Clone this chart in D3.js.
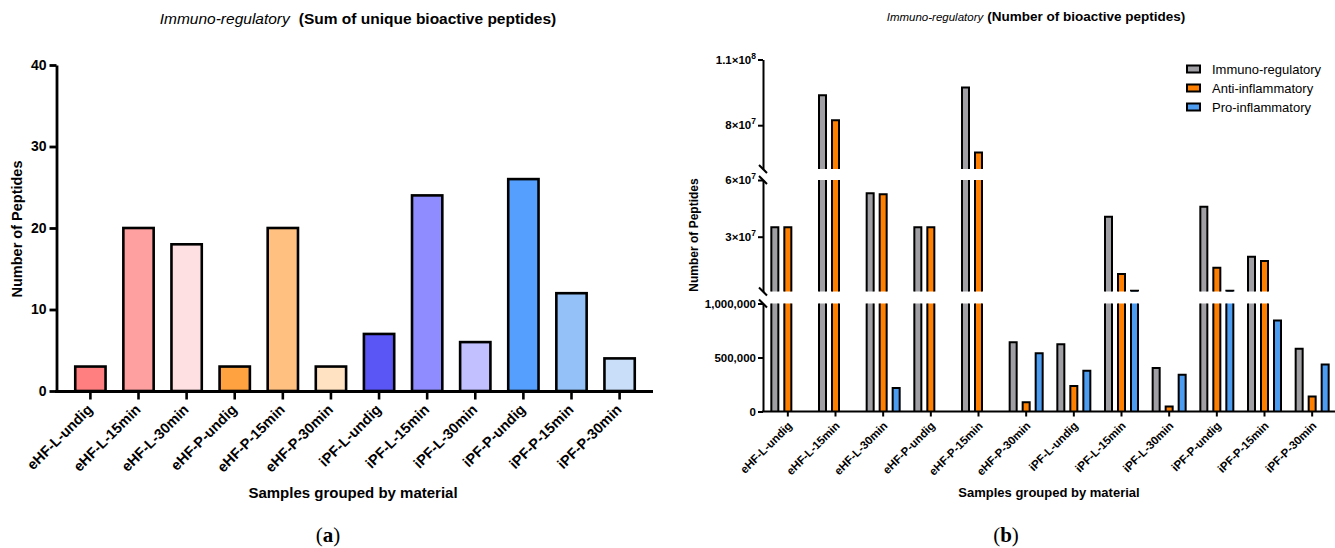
<!DOCTYPE html>
<html>
<head>
<meta charset="utf-8">
<script src="https://cdn.jsdelivr.net/npm/d3@7"></script>
<style>
  html, body { margin: 0; padding: 0; background: #fff; }
  svg { display: block; font-family: "Liberation Sans", Arial, sans-serif; }
</style>
</head>
<body>
<svg id="fig" width="1335" height="548"></svg>
<script>
// Sample groups shared by both panels
const categories = ["eHF-L-undig", "eHF-L-15min", "eHF-L-30min", "eHF-P-undig", "eHF-P-15min", "eHF-P-30min",
                    "iPF-L-undig", "iPF-L-15min", "iPF-L-30min", "iPF-P-undig", "iPF-P-15min", "iPF-P-30min"];

// Panel (a): sum of unique immuno-regulatory peptides
const uniqueCounts = [3, 20, 18, 3, 20, 3, 7, 24, 6, 26, 12, 4];
const sampleColors = ["#ff7f80", "#ffa0a0", "#ffe0e2", "#ffa23f", "#ffc080", "#ffe2c2",
                      "#5a55f5", "#8f8cff", "#c2c0ff", "#55a0ff", "#94c2f8", "#c9def8"];
const leftTicks = [0, 10, 20, 30, 40];

// Panel (b): number of bioactive peptides per activity class
const seriesNames = ["Immuno-regulatory", "Anti-inflammatory", "Pro-inflammatory"];
const seriesColors = ["#a0a0a4", "#ff8000", "#4c9cf2"];
const immunoValues = [3.5e7, 9.37e7, 5.3e7, 3.5e7, 9.72e7, 641000, 622000, 4.06e7, 402000, 4.59e7, 1.94e7, 580000];
const antiValues   = [3.5e7, 8.23e7, 5.24e7, 3.5e7, 6.75e7, 85000, 236000, 1.03e7, 46000, 1.36e7, 1.71e7, 139000];
const proValues    = [0, 0, 217000, 0, 0, 539000, 378000, 1.42e6, 340000, 1.42e6, 843000, 435000];

// Broken y axis of panel (b): value ranges and their tick labels
const segBottomDomain = [0, 1e6];
const segMiddleDomain = [1e6, 6e7];
const segTopDomain = [6e7, 1.1e8];
const segBottomTicks = [0, 500000, 1000000];
const segMiddleTicks = [3e7, 6e7];
const segTopTicks = [8e7, 1.1e8];
const tickLabels = new Map([
  [0, ["0"]], [500000, ["500,000"]], [1000000, ["1,000,000"]],
  [3e7, ["3×10", "7"]], [6e7, ["6×10", "7"]], [8e7, ["8×10", "7"]], [1.1e8, ["1.1×10", "8"]]
]);

const svg = d3.select("#fig");

/* ---------------- Panel (a) ---------------- */
const a = svg.append("g");
const xA = d3.scaleBand().domain(categories).range([56, 654]).paddingInner(0.37).paddingOuter(0.4);
const yA = d3.scaleLinear().domain([0, 40]).range([391, 65]);

a.selectAll("rect.bar").data(categories).join("rect")
  .attr("class", "bar")
  .attr("x", d => xA(d))
  .attr("width", xA.bandwidth())
  .attr("y", (d, i) => yA(uniqueCounts[i]))
  .attr("height", (d, i) => yA(0) - yA(uniqueCounts[i]))
  .attr("fill", (d, i) => sampleColors[i])
  .attr("stroke", "#000").attr("stroke-width", 2.6);

const yAxisA = a.append("g").attr("transform", "translate(56.5,0)")
  .call(d3.axisLeft(yA).tickValues(leftTicks).tickSize(7).tickSizeOuter(0).tickPadding(3));
yAxisA.select(".domain").attr("stroke-width", 2.8);
yAxisA.selectAll(".tick line").attr("stroke-width", 2.8);
yAxisA.selectAll(".tick text").attr("font-size", 14).attr("font-weight", "bold").attr("fill", "#000");

const xAxisA = a.append("g").attr("transform", "translate(0,391.5)")
  .call(d3.axisBottom(xA).tickSize(8).tickSizeOuter(0));
xAxisA.select(".domain").attr("stroke-width", 2.8).attr("d", "M55,0H653");
xAxisA.selectAll(".tick line").attr("stroke-width", 2.6);
xAxisA.selectAll(".tick text")
  .attr("font-size", 14.5).attr("font-weight", "bold").attr("fill", "#000")
  .attr("text-anchor", "end").attr("dy", 0).attr("y", 0)
  .attr("transform", "translate(3,19) rotate(-45)");

a.append("text").attr("x", 358).attr("y", 24).attr("text-anchor", "middle").attr("font-size", 15.5)
  .call(t => {
    t.append("tspan").attr("font-style", "italic").text("Immuno-regulatory");
    t.append("tspan").attr("font-weight", "bold").attr("dx", 9).text("(Sum of unique bioactive peptides)");
  });
a.append("text").attr("transform", "translate(22,229) rotate(-90)").attr("text-anchor", "middle")
  .attr("font-size", 14.5).attr("font-weight", "bold").text("Number of Peptides");
a.append("text").attr("x", 353).attr("y", 498).attr("text-anchor", "middle")
  .attr("font-size", 15).attr("font-weight", "bold").text("Samples grouped by material");
a.append("text").attr("x", 328).attr("y", 542).attr("text-anchor", "middle")
  .attr("font-family", "Liberation Serif, serif").attr("font-size", 21)
  .call(t => {
    t.append("tspan").text("(");
    t.append("tspan").attr("font-weight", "bold").text("a");
    t.append("tspan").text(")");
  });

/* ---------------- Panel (b) ---------------- */
const b = svg.append("g");
const axisX = 763;
const xB = d3.scaleBand().domain(categories).range([764, 1336]);
const xSeries = d3.scalePoint().domain(seriesNames).range([-13, 13]);
const barW = 7;

// Each piece of the broken axis is its own linear scale
const segments = [
  { scale: d3.scaleLinear().domain(segBottomDomain).range([411.5, 303.5]), ticks: segBottomTicks, breakTop: true, breakBottom: false },
  { scale: d3.scaleLinear().domain(segMiddleDomain).range([291.5, 180]), ticks: segMiddleTicks, breakTop: true, breakBottom: true },
  { scale: d3.scaleLinear().domain(segTopDomain).range([169, 59.5]), ticks: segTopTicks, breakTop: false, breakBottom: true }
];

const seriesData = [immunoValues, antiValues, proValues];
const barPieces = [];
seriesData.forEach((vals, s) => {
  vals.forEach((v, i) => {
    segments.forEach(seg => {
      const [d0, d1] = seg.scale.domain();
      if (v <= d0) return;
      const top = seg.scale(Math.min(v, d1));
      const bottom = seg.scale(d0);
      const cx = xB(categories[i]) + xB.bandwidth() / 2 + xSeries(seriesNames[s]);
      barPieces.push({ s, x0: cx - barW / 2, x1: cx + barW / 2, top, bottom, capped: v <= d1 });
    });
  });
});

const pieces = b.selectAll("g.piece").data(barPieces).join("g").attr("class", "piece");
pieces.append("rect")
  .attr("x", d => d.x0).attr("width", barW)
  .attr("y", d => d.top).attr("height", d => d.bottom - d.top)
  .attr("fill", d => seriesColors[d.s]);
pieces.append("path")
  .attr("d", d => d.capped
    ? `M${d.x0},${d.bottom}V${d.top}H${d.x1}V${d.bottom}`
    : `M${d.x0},${d.bottom}V${d.top}M${d.x1},${d.top}V${d.bottom}`)
  .attr("fill", "none").attr("stroke", "#000").attr("stroke-width", 2);

// Y axis pieces with break marks
segments.forEach(seg => {
  const g = b.append("g").attr("transform", `translate(${axisX},0)`)
    .call(d3.axisLeft(seg.scale).tickValues(seg.ticks).tickSize(5).tickSizeOuter(0).tickPadding(2).tickFormat(""));
  g.select(".domain").attr("stroke-width", 2);
  g.selectAll(".tick line").attr("stroke-width", 2);
  g.selectAll(".tick text").each(function (d) {
    const parts = tickLabels.get(d);
    const t = d3.select(this).attr("font-size", 11.5).attr("font-weight", "bold").attr("fill", "#000");
    t.append("tspan").text(parts[0]);
    if (parts.length > 1) t.append("tspan").attr("dy", -5).attr("font-size", 8.5).text(parts[1]);
  });
  const [r0, r1] = seg.scale.range();
  if (seg.breakTop) g.append("line").attr("x1", -4).attr("y1", r1 - 4).attr("x2", 4).attr("y2", r1 + 4)
    .attr("stroke", "#000").attr("stroke-width", 2);
  if (seg.breakBottom) g.append("line").attr("x1", -4).attr("y1", r0 - 4).attr("x2", 4).attr("y2", r0 + 4)
    .attr("stroke", "#000").attr("stroke-width", 2);
});

const xAxisB = b.append("g").attr("transform", "translate(0,411.5)")
  .call(d3.axisBottom(xB).tickSize(5).tickSizeOuter(0));
xAxisB.select(".domain").attr("stroke-width", 2).attr("d", `M${axisX - 1},0H1335`);
xAxisB.selectAll(".tick line").attr("stroke-width", 2);
xAxisB.selectAll(".tick text")
  .attr("font-size", 11.5).attr("font-weight", "bold").attr("fill", "#000")
  .attr("text-anchor", "end").attr("dy", 0).attr("y", 0)
  .attr("transform", "translate(5,15) rotate(-45)");

// Legend
const legend = b.append("g").attr("transform", "translate(1187,69)");
seriesNames.forEach((name, i) => {
  const row = legend.append("g").attr("transform", `translate(0,${i * 19})`);
  row.append("rect").attr("x", 0).attr("y", -3.5).attr("width", 13).attr("height", 7)
    .attr("fill", seriesColors[i]).attr("stroke", "#000").attr("stroke-width", 2);
  row.append("text").attr("x", 25).attr("y", 4.5).attr("font-size", 13).text(name);
});

b.append("text").attr("x", 1036).attr("y", 21).attr("text-anchor", "middle")
  .call(t => {
    t.append("tspan").attr("font-style", "italic").attr("font-size", 11.5).text("Immuno-regulatory");
    t.append("tspan").attr("font-weight", "bold").attr("font-size", 13.5).attr("dx", 4).text("(Number of bioactive peptides)");
  });
b.append("text").attr("transform", "translate(698,235) rotate(-90)").attr("text-anchor", "middle")
  .attr("font-size", 12).attr("font-weight", "bold").text("Number of Peptides");
b.append("text").attr("x", 1049).attr("y", 497).attr("text-anchor", "middle")
  .attr("font-size", 13).attr("font-weight", "bold").text("Samples grouped by material");
b.append("text").attr("x", 1006).attr("y", 542).attr("text-anchor", "middle")
  .attr("font-family", "Liberation Serif, serif").attr("font-size", 21)
  .call(t => {
    t.append("tspan").text("(");
    t.append("tspan").attr("font-weight", "bold").text("b");
    t.append("tspan").text(")");
  });
</script>
</body>
</html>
